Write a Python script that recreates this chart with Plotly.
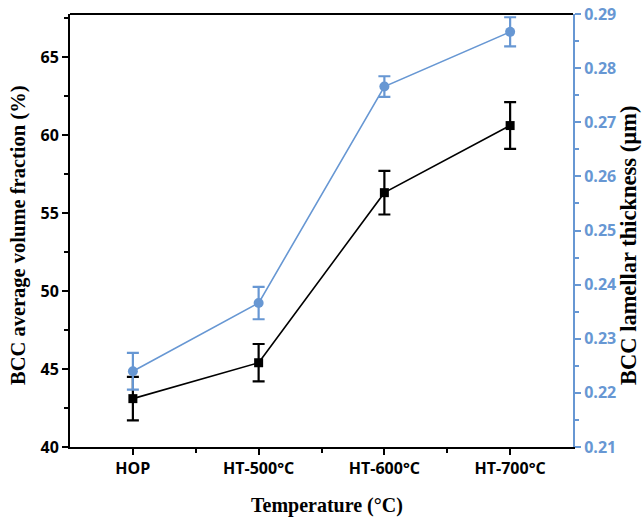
import plotly.graph_objects as go

categories = ["HOP", "HT-500°C", "HT-600°C", "HT-700°C"]
cat_pos = [0, 1, 2, 3]
vol_fraction = [43.1, 45.4, 56.3, 60.6]
vol_fraction_err = [1.4, 1.2, 1.4, 1.5]
lamellar = [0.2240, 0.2366, 0.2766, 0.2867]
lamellar_err = [0.0034, 0.0030, 0.0019, 0.0027]
left_ticks = [40, 45, 50, 55, 60, 65]
right_ticks = [0.21, 0.22, 0.23, 0.24, 0.25, 0.26, 0.27, 0.28, 0.29]

BLUE = "#6797D3"
tick_family = "Open Sans, Liberation Sans, sans-serif"
tick_font = dict(family=tick_family, size=16, color="black")
serif = "Liberation Serif, Times New Roman, serif"

W, H = 643, 521
L, R, T, B = 70, 70, 14, 74
PW, PH = W - L - R, H - T - B

fig = go.Figure()
fig.add_trace(go.Scatter(
    x=cat_pos, y=lamellar, yaxis="y2", mode="lines+markers",
    line=dict(color=BLUE, width=1.6),
    marker=dict(symbol="circle", size=10, color=BLUE),
    error_y=dict(type="data", array=lamellar_err, color=BLUE, thickness=2.2, width=6),
    showlegend=False,
))
fig.add_trace(go.Scatter(
    x=cat_pos, y=vol_fraction, mode="lines+markers",
    line=dict(color="black", width=1.6),
    marker=dict(symbol="square", size=9, color="black"),
    error_y=dict(type="data", array=vol_fraction_err, color="black", thickness=2.2, width=6),
    showlegend=False,
))

fig.update_layout(
    width=W, height=H,
    margin=dict(l=L, r=R, t=T, b=B),
    paper_bgcolor="white", plot_bgcolor="white",
    xaxis=dict(
        range=[-0.5, 3.5], tickvals=cat_pos, ticktext=[f"<b>{c}</b>" for c in categories],
        showgrid=False, zeroline=False, showline=True, linecolor="black", linewidth=2,
        ticks="outside", ticklen=6, tickwidth=1.5, tickcolor="black",
        minor=dict(tickvals=[0.5, 1.5, 2.5], ticks="outside", ticklen=4, tickwidth=1.5, tickcolor="black"),
        tickfont=tick_font, automargin=False,
    ),
    yaxis=dict(
        range=[40, 67.75], tickvals=left_ticks,
        ticktext=[f"<b>{v}</b>" for v in left_ticks],
        showgrid=False, zeroline=False, showline=True, linecolor="black", linewidth=2,
        ticks="outside", ticklen=6, tickwidth=1.5, tickcolor="black",
        minor=dict(dtick=2.5, tick0=40, ticks="outside", ticklen=4, tickwidth=1.5, tickcolor="black"),
        tickfont=tick_font, automargin=False,
    ),
    yaxis2=dict(
        overlaying="y", side="right", range=[0.21, 0.29],
        tickvals=right_ticks,
        ticktext=[f"<b>{v:.2f}</b>" for v in right_ticks],
        showgrid=False, zeroline=False, showline=True, linecolor=BLUE, linewidth=2,
        ticks="outside", ticklen=6, tickwidth=1.5, tickcolor=BLUE,
        minor=dict(dtick=0.005, tick0=0.21, ticks="outside", ticklen=4, tickwidth=1.5, tickcolor=BLUE),
        tickfont=dict(family=tick_family, size=16, color=BLUE), automargin=False,
    ),
    shapes=[dict(type="line", xref="paper", yref="paper", x0=0, x1=1, y0=1, y1=1,
                 line=dict(color="black", width=2))],
    annotations=[
        dict(text="<b>Temperature (°C)</b>", xref="paper", yref="paper",
             x=(327 - L) / PW, y=-(505 - (H - B)) / PH, xanchor="center", yanchor="middle",
             showarrow=False, font=dict(family=serif, size=20, color="black")),
        dict(text="<b>BCC average volume fraction (%)</b>", xref="paper", yref="paper",
             x=-(L - 18) / PW, y=0.5 - ((236 - T) - PH / 2) / PH,
             xanchor="center", yanchor="middle", textangle=-90,
             showarrow=False, font=dict(family=serif, size=20.5, color="black")),
        dict(text="<b>BCC lamellar thickness (µm)</b>", xref="paper", yref="paper",
             x=1 + (628 - (W - R)) / PW, y=0.5 - ((246 - T) - PH / 2) / PH,
             xanchor="center", yanchor="middle", textangle=-90,
             showarrow=False, font=dict(family=serif, size=22.5, color="black")),
    ],
)

fig.write_html("out.html", config={"displayModeBar": False},
               post_script="document.body.style.margin='0px';document.body.style.overflow='hidden';")
